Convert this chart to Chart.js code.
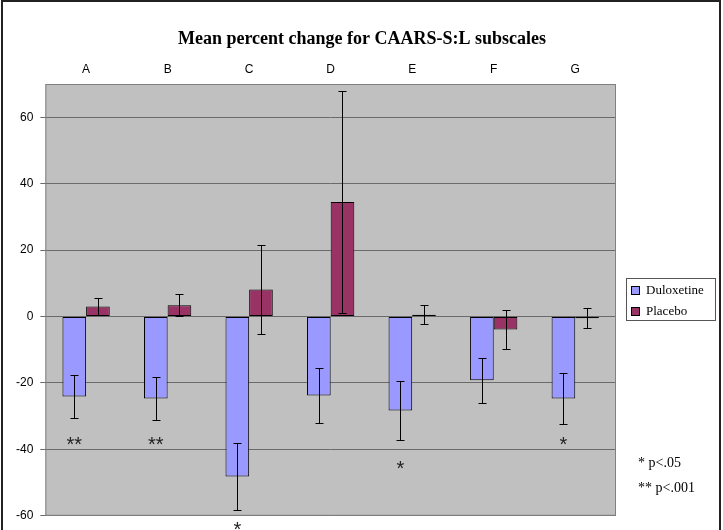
<!DOCTYPE html>
<html lang="en">
<head>
<meta charset="UTF-8">
<title>Mean percent change for CAARS-S:L subscales</title>
<script src="https://cdn.jsdelivr.net/npm/chart.js"></script>
<style>
    body { margin: 0; padding: 0; background: #fff; }
    .wrap { width: 723px; height: 530px; position: relative; }
</style>
</head>
<body>
<div class="wrap"><canvas id="myChart"></canvas></div>
<script>
// values
const subscales = ['A', 'B', 'C', 'D', 'E', 'F', 'G'];
const duloxetine = [-24.1, -24.7, -48.2, -23.8, -28.3, -19.2, -24.7];
const duloxetineErr = [6.6, 6.5, 10.1, 8.2, 9.0, 6.8, 7.8];
const placebo = [3.0, 3.4, 8.1, 34.5, 0.5, -3.9, -0.5];
const placeboErr = [2.5, 3.3, 13.5, 33.5, 2.9, 6.0, 3.0];
// significance marks under the duloxetine bars (baseline in axis units)
const sigMarks = ['**', '**', '*', '', '*', '', '*'];
const sigLevel = [-40, -40, -65.4, null, -47.2, null, -40];
const yTicks = [-60, -40, -20, 0, 20, 40, 60];
const notes = ['* p<.05', '** p<.001'];

const serif = "'Liberation Serif', 'Times New Roman', serif";
const sans = "'Liberation Sans', Arial, sans-serif";

const decor = {
    id: 'decor',
    beforeDraw(chart) {
        const { ctx, chartArea: a, width, height } = chart;
        ctx.save();
        ctx.fillStyle = '#fff';
        ctx.fillRect(0, 0, width, height);
        ctx.fillStyle = '#c0c0c0';
        ctx.fillRect(a.left, a.top, a.right - a.left, a.bottom - a.top);
        ctx.restore();
    },
    beforeDatasetsDraw(chart) {
        const { ctx, chartArea: a } = chart;
        ctx.save();
        ctx.strokeStyle = '#808080';
        ctx.lineWidth = 1;
        ctx.strokeRect(a.left + 0.5, a.top + 0.5, a.right - a.left - 1, a.bottom - a.top - 1);
        ctx.restore();
    },
    afterDatasetsDraw(chart) {
        const { ctx } = chart;
        const y = chart.scales.y;
        const errs = [duloxetineErr, placeboErr];
        ctx.save();
        ctx.strokeStyle = '#000';
        ctx.lineWidth = 1;
        chart.data.datasets.forEach((ds, i) => {
            chart.getDatasetMeta(i).data.forEach((bar, j) => {
                const v = ds.data[j], e = errs[i][j];
                const x = Math.round(bar.x) + 0.5;
                const hi = Math.round(y.getPixelForValue(v + e)) + 0.5;
                const lo = Math.round(y.getPixelForValue(v - e)) + 0.5;
                ctx.beginPath();
                ctx.moveTo(x, hi); ctx.lineTo(x, lo);
                ctx.moveTo(x - 4, hi); ctx.lineTo(x + 4, hi);
                ctx.moveTo(x - 4, lo); ctx.lineTo(x + 4, lo);
                ctx.stroke();
            });
        });
        // significance asterisks
        ctx.fillStyle = '#222';
        ctx.font = '20px ' + sans;
        ctx.textAlign = 'center';
        ctx.textBaseline = 'alphabetic';
        const meta = chart.getDatasetMeta(0);
        sigMarks.forEach((m, j) => {
            if (!m) return;
            ctx.fillText(m, meta.data[j].x, y.getPixelForValue(sigLevel[j]) + 2);
        });
        ctx.restore();
    },
    afterDraw(chart) {
        const { ctx, chartArea: a, width } = chart;
        ctx.save();
        // legend box
        const lx = a.right + 10, lw = 89, lh = 42;
        const ly = (a.top + a.bottom) / 2 - lh / 2 - 0.5;
        ctx.strokeStyle = '#555';
        ctx.lineWidth = 1;
        ctx.strokeRect(Math.round(lx) + 0.5, Math.round(ly) + 0.5, lw, lh);
        ctx.font = '13px ' + serif;
        ctx.textBaseline = 'middle';
        ctx.textAlign = 'left';
        chart.data.datasets.forEach((ds, i) => {
            const cy = Math.round(ly) + 12 + i * 20.5;
            ctx.fillStyle = ds.backgroundColor;
            ctx.fillRect(Math.round(lx) + 5.5, Math.round(cy - 4) + 0.5, 8, 8);
            ctx.strokeStyle = '#000';
            ctx.strokeRect(Math.round(lx) + 5.5, Math.round(cy - 4) + 0.5, 8, 8);
            ctx.fillStyle = '#000';
            ctx.fillText(ds.label, lx + 20, cy + 1);
        });
        // significance key
        ctx.font = '14px ' + serif;
        notes.forEach((t, i) => {
            ctx.fillText(t, a.right + 22, 463 + i * 25.5);
        });
        // outer frame (left, top, right)
        ctx.strokeStyle = '#222';
        ctx.lineWidth = 2;
        ctx.beginPath();
        ctx.moveTo(2, 530); ctx.lineTo(2, 1); ctx.lineTo(width - 3, 1); ctx.lineTo(width - 3, 530);
        ctx.stroke();
        ctx.restore();
    }
};

const ctx = document.getElementById('myChart').getContext('2d');
const myChart = new Chart(ctx, {
    type: 'bar',
    data: {
        labels: subscales,
        datasets: [{
            label: 'Duloxetine',
            data: duloxetine,
            backgroundColor: '#9999ff',
            borderColor: '#000',
            borderWidth: 1,
            borderSkipped: false
        }, {
            label: 'Placebo',
            data: placebo,
            backgroundColor: '#993366',
            borderColor: '#000',
            borderWidth: 1,
            borderSkipped: false
        }]
    },
    options: {
        responsive: true,
        maintainAspectRatio: false,
        animation: false,
        events: [],
        layout: { padding: { left: 9, right: 8, top: 0, bottom: 13 } },
        datasets: { bar: { categoryPercentage: 0.58, barPercentage: 1 } },
        plugins: {
            legend: { display: false },
            tooltip: { enabled: false },
            title: {
                display: true,
                text: 'Mean percent change for CAARS-S:L subscales',
                color: '#000',
                font: { family: serif, size: 18, weight: 'bold' },
                padding: { top: 29, bottom: 5 }
            }
        },
        scales: {
            x: {
                position: 'top',
                grid: { display: false, drawTicks: false },
                border: { display: false },
                ticks: { color: '#000', font: { family: sans, size: 12 }, padding: 7 }
            },
            y: {
                min: -60,
                max: 70,
                afterBuildTicks(scale) { scale.ticks = yTicks.map(v => ({ value: v })); },
                grid: { color: '#6a6a6a', lineWidth: 1, tickLength: 5 },
                border: { display: false },
                ticks: { color: '#000', font: { family: sans, size: 12 }, padding: 7 }
            },
            yRight: {
                position: 'right',
                grid: { display: false, drawTicks: false },
                border: { display: false },
                ticks: { display: false },
                afterFit(scale) { scale.width = 99; }
            }
        }
    },
    plugins: [decor]
});
</script>
</body>
</html>
